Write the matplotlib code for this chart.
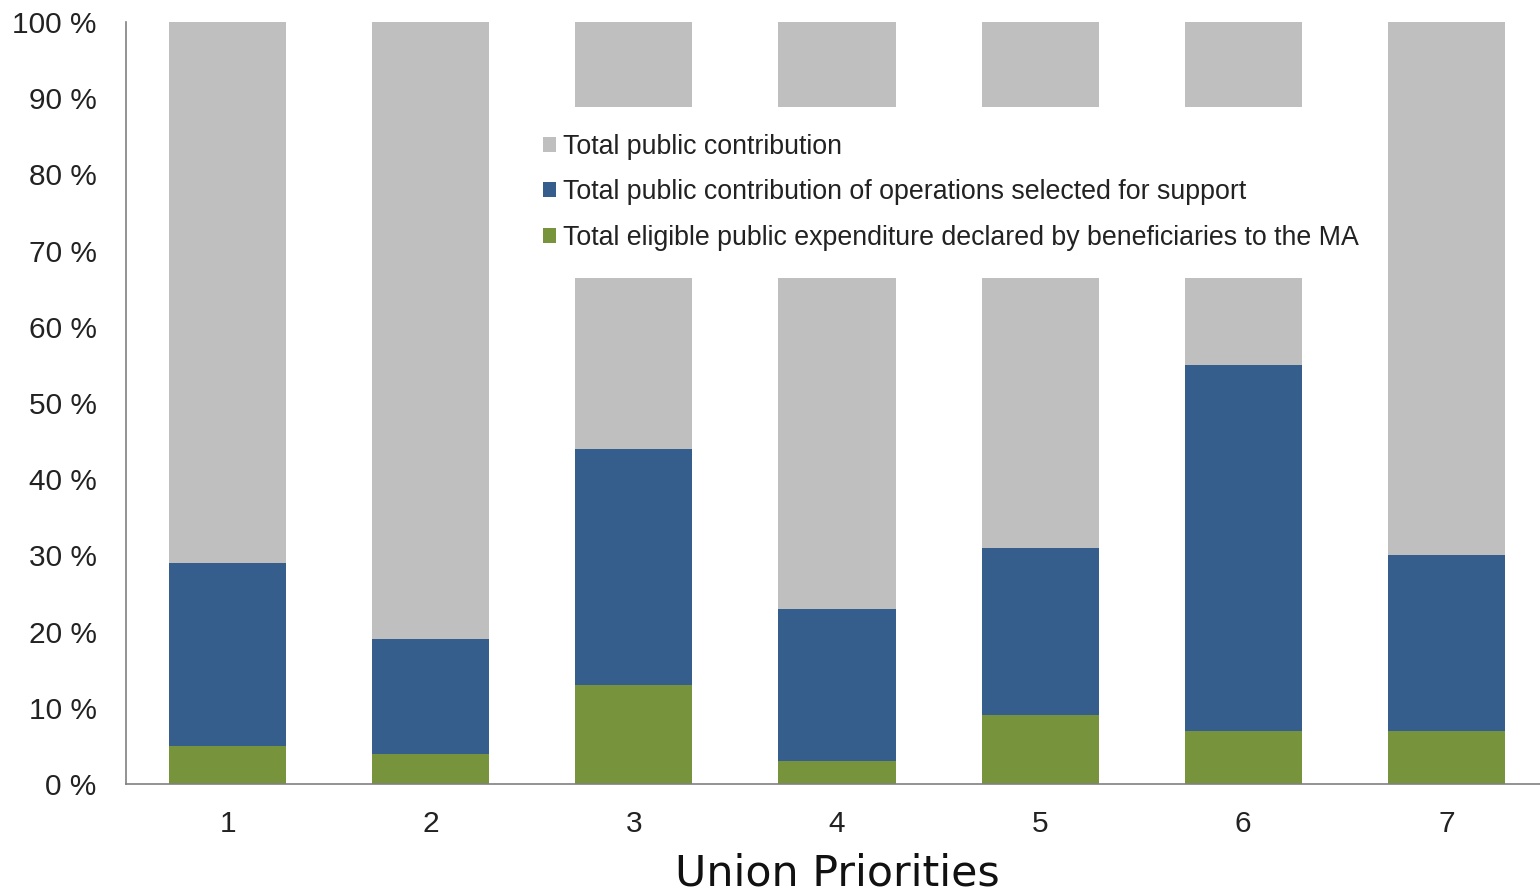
#!/usr/bin/env python3
"""Union Priorities: public contribution vs selected operations vs declared expenditure."""

import matplotlib
matplotlib.use('Agg')
import matplotlib.pyplot as plt
import numpy as np

priorities = ['1', '2', '3', '4', '5', '6', '7']
total_public = [100, 100, 100, 100, 100, 100, 100]
selected_ops = [29, 19, 44, 23, 31, 55, 30]
declared_exp = [5, 4, 13, 3, 9, 7, 7]
y_ticks = [0, 10, 20, 30, 40, 50, 60, 70, 80, 90, 100]

labels = ['Total public contribution',
          'Total public contribution of operations selected for support',
          'Total eligible public expenditure declared by beneficiaries to the MA']
colors = ['#BFBFBF', '#355E8D', '#77933C']

plt.rcParams['font.family'] = ['Liberation Sans', 'DejaVu Sans']

fig = plt.figure(figsize=(15.4, 8.93), dpi=100)
ax = fig.add_axes([126 / 1540, 109 / 893, 1422 / 1540, 762 / 893])

x = np.arange(len(priorities))
w = 0.577
ax.bar(x, total_public, width=w, color=colors[0], label=labels[0])
ax.bar(x, selected_ops, width=w, color=colors[1], label=labels[1])
ax.bar(x, declared_exp, width=w, color=colors[2], label=labels[2])

ax.set_xlim(-0.5, len(priorities) - 0.5)
ax.set_ylim(0, 100)
ax.set_yticks(y_ticks)
ax.set_yticklabels([f'{t} %' for t in y_ticks])
ax.set_xticks(x)
ax.set_xticklabels(priorities)
ax.tick_params(axis='y', length=0, pad=21, labelsize=21.5, labelcolor='#222222')
ax.tick_params(axis='x', length=0, pad=19, labelsize=21.5, labelcolor='#222222')

for s in ['top', 'right']:
    ax.spines[s].set_visible(False)
for s in ['left', 'bottom']:
    ax.spines[s].set_color('#808080')
    ax.spines[s].set_linewidth(1.2)

ax.set_xlabel('Union Priorities', family='DejaVu Sans', fontsize=30.8,
              color='#111111', labelpad=10)

leg = fig.legend(loc='upper left', bbox_to_anchor=(516 / 1540, 1 - 107 / 893),
                 fontsize=19.3, frameon=True, facecolor='white', edgecolor='none',
                 framealpha=1, fancybox=False, borderpad=1.0, borderaxespad=0,
                 labelspacing=0.73, handlelength=0.5, handleheight=0.5,
                 handletextpad=0.25)
for t in leg.get_texts():
    t.set_color('#222222')

plt.savefig('out.png', dpi=100)
plt.close()
